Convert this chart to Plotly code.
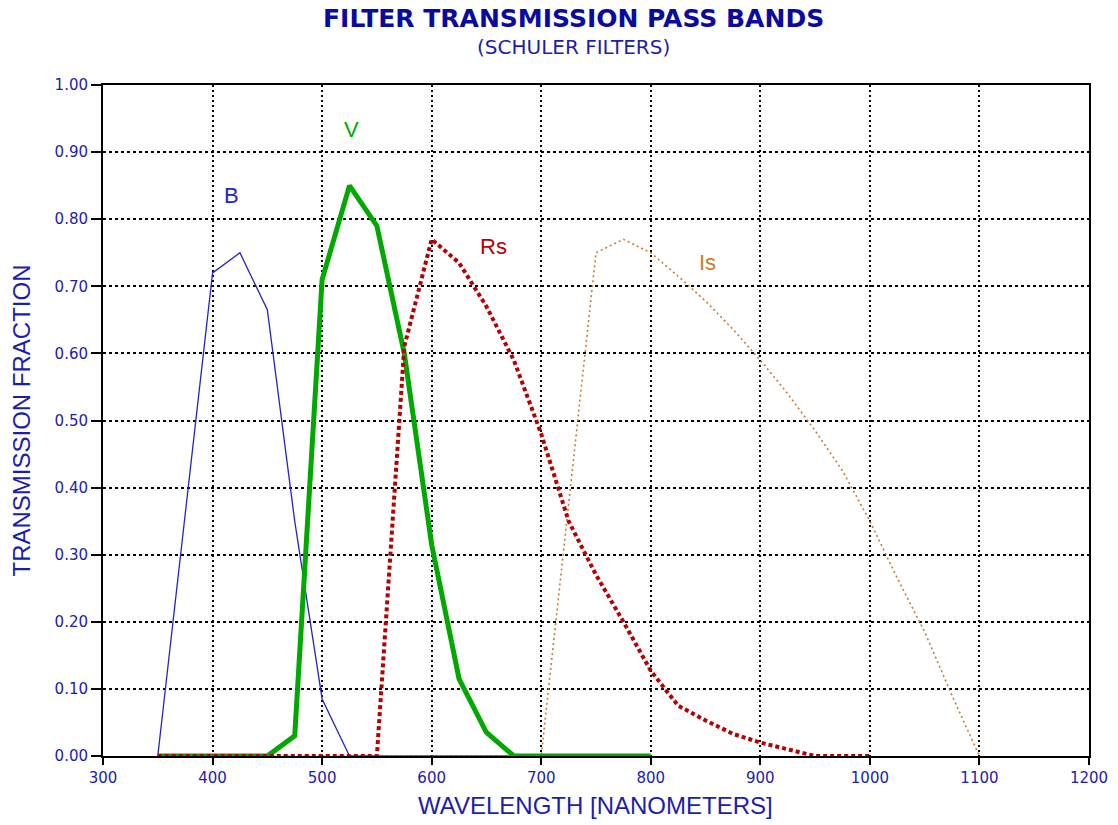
import plotly.graph_objects as go

# Schuler filter transmission curves (wavelength in nm, transmission fraction)
b_wl = [350, 400, 425, 450, 475, 500, 525, 550, 575, 600, 625, 650, 675, 700, 725, 750, 775, 800]
b_tr = [0.00, 0.72, 0.75, 0.665, 0.35, 0.085, 0.00, 0.00, 0.00, 0.00, 0.00, 0.00, 0.00, 0.00, 0.00, 0.00, 0.00, 0.00]

v_wl = [350, 375, 400, 425, 450, 475, 500, 525, 550, 575, 600, 625, 650, 675, 700, 725, 750, 775, 800]
v_tr = [0.00, 0.00, 0.00, 0.00, 0.00, 0.03, 0.71, 0.85, 0.79, 0.60, 0.315, 0.115, 0.035, 0.00, 0.00, 0.00, 0.00, 0.00, 0.00]

rs_wl = [350, 375, 400, 425, 450, 475, 500, 525, 550, 575, 600, 625, 650, 675, 700, 725, 750, 775,
         800, 825, 850, 875, 900, 925, 950, 975, 1000]
rs_tr = [0.00, 0.00, 0.00, 0.00, 0.00, 0.00, 0.00, 0.00, 0.00, 0.61, 0.77, 0.735, 0.67, 0.59, 0.48, 0.35,
         0.27, 0.20, 0.127, 0.075, 0.053, 0.033, 0.02, 0.01, 0.00, 0.00, 0.00]

is_wl = [350, 400, 450, 500, 550, 600, 650, 700, 725, 750, 775, 800, 825, 850, 875, 900, 925, 950,
         975, 1000, 1025, 1050, 1075, 1100]
is_tr = [0.00, 0.00, 0.00, 0.00, 0.00, 0.00, 0.00, 0.00, 0.375, 0.75, 0.77, 0.75, 0.715, 0.678, 0.636,
         0.59, 0.54, 0.485, 0.425, 0.35, 0.265, 0.185, 0.09, 0.00]

# curve labels: text, x (nm), y (fraction)
label_text = ["B", "V", "Rs", "Is"]
label_x = [417, 527, 656, 852]
label_y = [0.835, 0.933, 0.76, 0.735]

x_ticks = [300, 400, 500, 600, 700, 800, 900, 1000, 1100, 1200]
y_ticks = [0.0, 0.1, 0.2, 0.3, 0.4, 0.5, 0.6, 0.7, 0.8, 0.9, 1.0]

C_B = "#2424c8"
C_V = "#00a800"
C_RS = "#b40000"
C_IS = "#cc7a2a"
C_TEXT = "#1c1cb0"

fig = go.Figure()
fig.add_trace(go.Scatter(x=b_wl, y=b_tr, mode="lines", line=dict(color=C_B, width=1.3), name="B"))
fig.add_trace(go.Scatter(x=is_wl, y=is_tr, mode="lines",
                         line=dict(color=C_IS, width=1.6, dash="2px,3px"), name="Is"))
fig.add_trace(go.Scatter(x=v_wl, y=v_tr, mode="lines", line=dict(color=C_V, width=5), name="V"))
fig.add_trace(go.Scatter(x=rs_wl, y=rs_tr, mode="lines",
                         line=dict(color=C_RS, width=4, dash="4px,3px"), name="Rs"))

for t, x, y, c in zip(label_text, label_x, label_y, [C_B, C_V, C_RS, C_IS]):
    fig.add_annotation(x=x, y=y, text=t, showarrow=False,
                       font=dict(family="Liberation Sans, Arial, sans-serif", size=22, color=c))

# headings, slightly left of the plot centre
fig.add_annotation(xref="paper", yref="paper", x=0.4767, y=1.0, yshift=67, yanchor="middle",
                   text="<b>FILTER TRANSMISSION PASS BANDS</b>", showarrow=False,
                   font=dict(family="DejaVu Sans, sans-serif", size=25, color="#0a0aa0"))
fig.add_annotation(xref="paper", yref="paper", x=0.4767, y=1.0, yshift=38, yanchor="middle",
                   text="(SCHULER FILTERS)", showarrow=False,
                   font=dict(family="DejaVu Sans, sans-serif", size=20, color=C_TEXT))

title_font = dict(family="Liberation Sans, Arial, sans-serif", size=24, color=C_TEXT)
fig.add_annotation(xref="paper", yref="paper", x=0.499, y=0, yshift=-49, yanchor="middle",
                   text="WAVELENGTH [NANOMETERS]", showarrow=False, font=title_font)
fig.add_annotation(xref="paper", yref="paper", x=0, xshift=-82, y=0.5, xanchor="center",
                   textangle=-90, text="TRANSMISSION FRACTION", showarrow=False, font=title_font)

axis_font = dict(family="DejaVu Sans, sans-serif", size=15, color=C_TEXT)

fig.update_xaxes(range=[300, 1200], tickvals=x_ticks, ticktext=[str(v) for v in x_ticks],
                 showline=True, linecolor="black", linewidth=2, mirror=True,
                 ticks="outside", ticklen=7, tickcolor="black", tickwidth=1.5,
                 showgrid=True, gridcolor="black", gridwidth=1.5, griddash="2px,3px",
                 zeroline=False, tickfont=axis_font, automargin=False)
fig.update_yaxes(range=[0, 1.0], tickvals=y_ticks, ticktext=[f"{v:.2f}" for v in y_ticks],
                 showline=True, linecolor="black", linewidth=2, mirror=True,
                 ticks="outside", ticklen=10, tickcolor="black", tickwidth=1.5,
                 showgrid=True, gridcolor="black", gridwidth=1.5, griddash="3px,3px",
                 zeroline=False, tickfont=axis_font, automargin=False)

fig.update_layout(width=1118, height=825, showlegend=False,
                  plot_bgcolor="white", paper_bgcolor="white",
                  margin=dict(l=103, r=29, t=85, b=69))

fig.write_html("out.html")
